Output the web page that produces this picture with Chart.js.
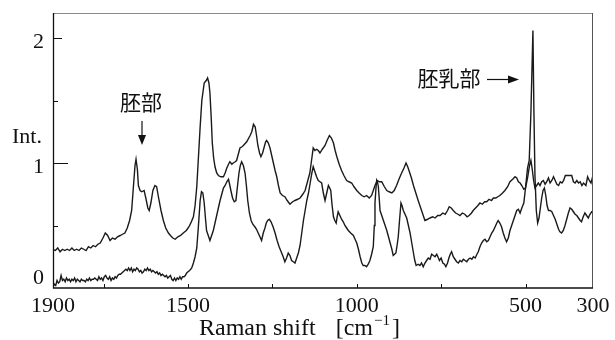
<!DOCTYPE html>
<html>
<head>
<meta charset="utf-8">
<script src="https://cdn.jsdelivr.net/npm/chart.js@4/dist/chart.umd.min.js"></script>
<style>
  html, body { margin: 0; padding: 0; background: #fff; }
  #wrap { width: 615px; height: 340px; }
</style>
</head>
<body>
<div id="wrap"><canvas id="c" width="615" height="340"></canvas></div>
<script>
// Embryo (胚部) spectrum: Raman shift [cm-1] and intensity
const embryoShift = [
  1900,1893,1886,1879,1872,1865,1858,1851,1844,1837,1830,1823,1816,1809,1802,1795,1788,1781,1774,1767,
  1760,1752,1745,1738,1731,1724,1716,1709,1701,1694,1687,1680,1673,1667,1662,1657,1654,1650,1647,1642,
  1637,1630,1625,1619,1615,1610,1604,1598,1593,1587,1580,1573,1566,1558,1552,1545,1538,1530,1522,1514,
  1505,1497,1490,1484,1479,1474,1469,1464,1459,1452,1446,1442,1438,1435,1431,1428,1424,1420,1415,1410,
  1403,1395,1390,1385,1380,1376,1370,1366,1360,1356,1351,1346,1340,1336,1326,1316,1311,1306,1301,1297,
  1293,1288,1284,1279,1274,1270,1267,1262,1257,1252,1247,1242,1237,1232,1227,1220,1213,1206,1198,1190,
  1183,1175,1168,1160,1153,1146,1139,1134,1129,1124,1119,1114,1109,1102,1094,1088,1081,1075,1069,1064,
  1059,1052,1045,1038,1030,1023,1015,1008,1000,993,985,978,971,963,956,951,946,939,933,926,
  918,911,904,896,889,882,875,867,860,854,849,844,838,832,825,818,813,808,803,798,
  790,783,775,768,760,753,745,738,731,726,720,714,707,700,694,687,680,673,667,660,
  655,648,641,635,628,621,615,608,601,595,588,582,576,568,561,553,546,538,531,526,
  521,516,511,505,500,494,488,484,480,476,472,467,462,457,452,447,442,437,432,427,
  422,417,412,407,402,397,392,387,382,378,373,368,363,358,353,348,343,338,333,328,
  321,316,311,306,302,300
];
const embryoInt = [
  0.31,0.30,0.32,0.29,0.31,0.30,0.31,0.30,0.32,0.30,0.31,0.30,0.32,0.31,0.30,0.33,0.32,0.34,0.33,0.35,
  0.36,0.40,0.44,0.42,0.38,0.40,0.39,0.41,0.42,0.43,0.44,0.48,0.54,0.62,0.80,0.98,1.03,0.95,0.82,0.78,
  0.77,0.78,0.72,0.64,0.62,0.68,0.78,0.82,0.81,0.72,0.62,0.54,0.48,0.44,0.42,0.40,0.39,0.41,0.42,0.44,
  0.46,0.49,0.53,0.57,0.66,0.81,1.05,1.29,1.50,1.64,1.66,1.68,1.64,1.56,1.35,1.16,1.04,0.97,0.92,0.90,
  0.89,0.89,0.92,0.96,0.99,1.01,0.99,1.00,1.01,1.02,1.07,1.12,1.13,1.14,1.17,1.22,1.25,1.31,1.29,1.22,
  1.14,1.08,1.05,1.08,1.13,1.17,1.18,1.16,1.12,1.06,1.00,0.94,0.89,0.82,0.76,0.74,0.73,0.70,0.67,0.69,
  0.70,0.71,0.72,0.75,0.78,0.85,0.92,1.02,1.12,1.10,1.11,1.10,1.08,1.11,1.14,1.18,1.22,1.20,1.16,1.10,
  1.05,0.99,0.94,0.90,0.86,0.85,0.84,0.81,0.78,0.76,0.74,0.73,0.74,0.72,0.74,0.78,0.82,0.86,0.85,0.85,
  0.81,0.78,0.77,0.76,0.78,0.82,0.87,0.92,0.96,1.00,0.97,0.93,0.88,0.82,0.76,0.70,0.66,0.62,0.58,0.54,
  0.55,0.56,0.57,0.56,0.58,0.58,0.60,0.59,0.62,0.65,0.64,0.62,0.60,0.59,0.58,0.60,0.59,0.57,0.58,0.60,
  0.62,0.64,0.66,0.68,0.67,0.69,0.69,0.71,0.70,0.72,0.72,0.73,0.74,0.76,0.78,0.81,0.85,0.87,0.89,0.88,
  0.85,0.84,0.82,0.79,0.80,0.88,0.98,1.02,0.95,0.86,0.80,0.82,0.84,0.82,0.85,0.86,0.83,0.85,0.88,0.84,
  0.86,0.89,0.86,0.83,0.82,0.85,0.84,0.86,0.90,0.90,0.90,0.90,0.90,0.85,0.84,0.86,0.84,0.85,0.82,0.84,
  0.82,0.89,0.86,0.84,0.88,0.87
];

// Endosperm (胚乳部) spectrum
const endospermShift = [
  1900,1896,1892,1888,1884,1880,1876,1872,1868,1864,1860,1856,1852,1848,1844,1840,1836,1832,1828,1824,
  1820,1816,1812,1808,1804,1800,1796,1792,1788,1784,1780,1776,1772,1768,1764,1760,1756,1752,1748,1744,
  1740,1736,1732,1728,1724,1720,1716,1712,1708,1704,1700,1696,1692,1688,1684,1680,1676,1672,1668,1664,
  1660,1656,1652,1648,1644,1640,1636,1632,1628,1624,1620,1616,1612,1608,1604,1600,1596,1592,1588,1584,
  1580,1576,1572,1568,1564,1560,1556,1552,1548,1544,1540,1536,1532,1528,1524,1520,1516,1512,1508,1504,
  1500,1495,1489,1484,1479,1474,1469,1464,1460,1456,1452,1448,1445,1440,1435,1430,1425,1420,1415,1410,
  1405,1400,1395,1390,1385,1380,1376,1373,1368,1363,1358,1354,1349,1345,1341,1336,1331,1327,1323,1318,
  1313,1308,1302,1297,1292,1287,1282,1277,1272,1268,1264,1259,1254,1248,1242,1236,1230,1224,1218,1213,
  1208,1203,1198,1193,1188,1183,1178,1173,1168,1163,1158,1153,1148,1143,1138,1133,1129,1124,1119,1114,
  1109,1104,1099,1094,1089,1084,1080,1077,1073,1069,1065,1061,1058,1055,1050,1045,1040,1035,1030,1025,
  1018,1010,1005,1000,995,990,985,981,976,971,966,961,956,951,948,946,943,941,938,936,
  933,931,926,921,916,911,906,901,896,892,888,884,880,877,873,869,866,862,857,852,
  847,842,837,832,828,824,818,813,808,803,798,793,788,783,778,773,768,763,758,755,
  750,745,740,736,731,727,723,719,714,709,704,699,694,689,684,679,674,669,664,659,
  654,649,644,640,635,630,625,620,615,610,605,600,595,590,585,581,576,571,566,561,
  556,551,546,541,536,531,526,521,516,511,505,500,494,489,484,478,475,472,468,464,
  460,456,452,448,444,440,436,432,427,422,417,412,407,402,398,393,388,383,378,373,
  368,363,358,353,348,343,338,334,329,324,319,314,309,304,300
];
const endospermInt = [
  0.01,0.03,0.02,0.06,0.04,0.05,0.10,0.06,0.07,0.05,0.08,0.06,0.07,0.05,0.07,0.06,0.08,0.05,0.07,0.06,
  0.05,0.07,0.06,0.06,0.05,0.07,0.06,0.08,0.06,0.07,0.07,0.08,0.07,0.06,0.09,0.07,0.08,0.06,0.09,0.10,
  0.08,0.07,0.09,0.06,0.08,0.07,0.09,0.08,0.10,0.11,0.11,0.12,0.13,0.14,0.15,0.14,0.16,0.14,0.16,0.13,
  0.15,0.14,0.16,0.15,0.13,0.14,0.12,0.13,0.15,0.14,0.16,0.14,0.15,0.13,0.14,0.13,0.12,0.13,0.11,0.12,
  0.10,0.11,0.10,0.09,0.10,0.08,0.09,0.10,0.07,0.06,0.08,0.06,0.08,0.07,0.09,0.07,0.09,0.09,0.10,0.12,
  0.13,0.14,0.16,0.20,0.25,0.32,0.50,0.70,0.77,0.76,0.68,0.55,0.46,0.42,0.38,0.42,0.46,0.52,0.58,0.64,
  0.70,0.75,0.80,0.82,0.85,0.87,0.82,0.78,0.72,0.69,0.70,0.80,0.92,0.98,1.01,0.98,0.92,0.82,0.70,0.60,
  0.54,0.51,0.49,0.47,0.44,0.41,0.38,0.44,0.48,0.52,0.54,0.55,0.53,0.49,0.44,0.38,0.33,0.29,0.25,0.21,
  0.24,0.28,0.26,0.22,0.21,0.20,0.24,0.28,0.34,0.44,0.54,0.62,0.70,0.76,0.84,0.92,0.97,0.93,0.89,0.86,
  0.85,0.84,0.76,0.70,0.76,0.82,0.80,0.78,0.66,0.57,0.54,0.52,0.57,0.61,0.58,0.55,0.53,0.50,0.48,0.46,
  0.44,0.42,0.39,0.36,0.31,0.25,0.20,0.18,0.18,0.17,0.19,0.22,0.27,0.33,0.50,0.68,0.80,0.86,0.84,0.81,
  0.70,0.62,0.58,0.54,0.50,0.46,0.41,0.36,0.31,0.26,0.27,0.28,0.35,0.41,0.55,0.68,0.66,0.62,0.59,0.56,
  0.50,0.44,0.36,0.28,0.22,0.18,0.19,0.18,0.20,0.17,0.20,0.22,0.24,0.23,0.27,0.26,0.25,0.27,0.24,0.22,
  0.24,0.20,0.19,0.17,0.20,0.24,0.27,0.29,0.25,0.23,0.21,0.20,0.22,0.21,0.23,0.22,0.21,0.23,0.24,0.23,
  0.25,0.24,0.27,0.29,0.33,0.36,0.38,0.39,0.37,0.38,0.41,0.44,0.46,0.49,0.52,0.54,0.52,0.49,0.44,0.40,
  0.37,0.40,0.46,0.50,0.54,0.58,0.62,0.63,0.60,0.64,0.68,0.80,0.96,1.02,1.40,2.06,1.40,0.90,0.62,0.52,
  0.56,0.64,0.72,0.78,0.80,0.74,0.66,0.62,0.62,0.61,0.58,0.55,0.51,0.47,0.45,0.44,0.46,0.50,0.55,0.60,
  0.64,0.63,0.61,0.59,0.58,0.56,0.54,0.53,0.57,0.60,0.58,0.56,0.59,0.61,0.60
];

// Axis ranges and tick values
const xRange = [300, 1900];
const yRange = [0, 2.2];
const xTickLabels = [1900, 1500, 1000, 500, 300];
const xTickMarks = [1750, 1500, 1250, 1000, 750, 500];
const yTickLabels = [0, 1, 2];
const yMinorTicks = [0.5, 1.5];

const SERIF = '"Liberation Serif", "Times New Roman", serif';
const CJK = '"Noto Sans CJK JP", "Noto Sans CJK SC", sans-serif';

function toPoints(xs, ys) {
  return xs.map((x, i) => ({ x: x, y: ys[i] }));
}

// Frame, inward ticks, tick labels, axis titles and annotations
const decorations = {
  id: 'decorations',
  afterDraw(chart) {
    const ctx = chart.ctx;
    const a = chart.chartArea;
    const xs = chart.scales.x;
    const ys = chart.scales.y;
    ctx.save();

    // frame
    ctx.lineWidth = 1;
    ctx.strokeStyle = '#8a8a8a';
    ctx.beginPath();
    ctx.moveTo(a.left, a.top + 0.5); ctx.lineTo(a.right, a.top + 0.5);
    ctx.stroke();
    ctx.strokeStyle = '#555';
    ctx.beginPath();
    ctx.moveTo(a.right - 0.5, a.top); ctx.lineTo(a.right - 0.5, a.bottom);
    ctx.stroke();
    ctx.strokeStyle = '#111';
    ctx.lineWidth = 1.3;
    ctx.beginPath();
    ctx.moveTo(a.left + 0.5, a.top); ctx.lineTo(a.left + 0.5, a.bottom);
    ctx.lineTo(a.right, a.bottom);
    ctx.stroke();

    // y ticks (inward)
    ctx.lineWidth = 1;
    yTickLabels.forEach(v => {
      if (v === 0) return;
      const py = Math.round(ys.getPixelForValue(v)) + 0.5;
      ctx.beginPath();
      ctx.moveTo(a.left, py); ctx.lineTo(a.left + (v === 1 ? 15 : 9), py);
      ctx.stroke();
    });
    yMinorTicks.forEach(v => {
      const py = Math.round(ys.getPixelForValue(v)) + 0.5;
      ctx.beginPath();
      ctx.moveTo(a.left, py); ctx.lineTo(a.left + 5, py);
      ctx.stroke();
    });
    // x ticks (inward)
    xTickMarks.forEach(v => {
      const px = Math.round(xs.getPixelForValue(v)) + 0.5;
      ctx.beginPath();
      ctx.moveTo(px, a.bottom); ctx.lineTo(px, a.bottom - 4);
      ctx.stroke();
    });

    ctx.fillStyle = '#111';
    ctx.font = '22px ' + SERIF;

    // y tick labels
    ctx.textAlign = 'right';
    ctx.textBaseline = 'middle';
    yTickLabels.forEach(v => {
      const py = ys.getPixelForValue(v) + (v === 0 ? -10 : 4);
      ctx.fillText(String(v), a.left - 9, py);
    });

    // x tick labels
    ctx.textAlign = 'center';
    ctx.textBaseline = 'alphabetic';
    xTickLabels.forEach(v => {
      ctx.fillText(String(v), xs.getPixelForValue(v), a.bottom + 24);
    });

    // y title
    ctx.textAlign = 'left';
    ctx.fillText('Int.', 12, 143);

    // x title: Raman shift [cm-1]
    ctx.font = '24px ' + SERIF;
    let tx = 199;
    const ty = 335;
    ctx.fillText('Raman shift', tx, ty);
    tx += ctx.measureText('Raman shift').width + 20;
    ctx.fillText('[cm', tx, ty);
    tx += ctx.measureText('[cm').width + 1;
    ctx.font = '15px ' + SERIF;
    ctx.fillText('\u22121', tx, ty - 10);
    tx += ctx.measureText('\u22121').width + 2;
    ctx.font = '24px ' + SERIF;
    ctx.fillText(']', tx, ty);

    // annotations
    ctx.font = '21px ' + CJK;
    ctx.textAlign = 'center';
    ctx.textBaseline = 'middle';
    ctx.fillText('胚部', 141, 102);
    ctx.fillText('胚乳部', 449, 78);

    // down arrow under 胚部
    ctx.lineWidth = 1.2;
    ctx.beginPath();
    ctx.moveTo(142, 121); ctx.lineTo(142, 137);
    ctx.stroke();
    ctx.beginPath();
    ctx.moveTo(138, 135); ctx.lineTo(146, 135); ctx.lineTo(142, 145); ctx.closePath();
    ctx.fill();

    // right arrow after 胚乳部
    ctx.beginPath();
    ctx.moveTo(487, 79.5); ctx.lineTo(510, 79.5);
    ctx.stroke();
    ctx.beginPath();
    ctx.moveTo(508, 75.5); ctx.lineTo(508, 83.5); ctx.lineTo(519, 79.5); ctx.closePath();
    ctx.fill();

    ctx.restore();
  }
};

new Chart(document.getElementById('c'), {
  type: 'line',
  data: {
    datasets: [
      {
        label: '胚部',
        data: toPoints(embryoShift, embryoInt),
        borderColor: '#1a1a1a',
        borderWidth: 1.4,
        pointRadius: 0,
        tension: 0,
        fill: false
      },
      {
        label: '胚乳部',
        data: toPoints(endospermShift, endospermInt),
        borderColor: '#1a1a1a',
        borderWidth: 1.4,
        pointRadius: 0,
        tension: 0,
        fill: false
      }
    ]
  },
  options: {
    responsive: false,
    devicePixelRatio: 1,
    animation: false,
    layout: { padding: { left: 53, right: 22, top: 13, bottom: 52 } },
    plugins: {
      legend: { display: false },
      tooltip: { enabled: false }
    },
    scales: {
      x: { type: 'linear', reverse: true, min: xRange[0], max: xRange[1], display: false },
      y: { type: 'linear', min: yRange[0], max: yRange[1], display: false }
    }
  },
  plugins: [decorations]
});
</script>
</body>
</html>
